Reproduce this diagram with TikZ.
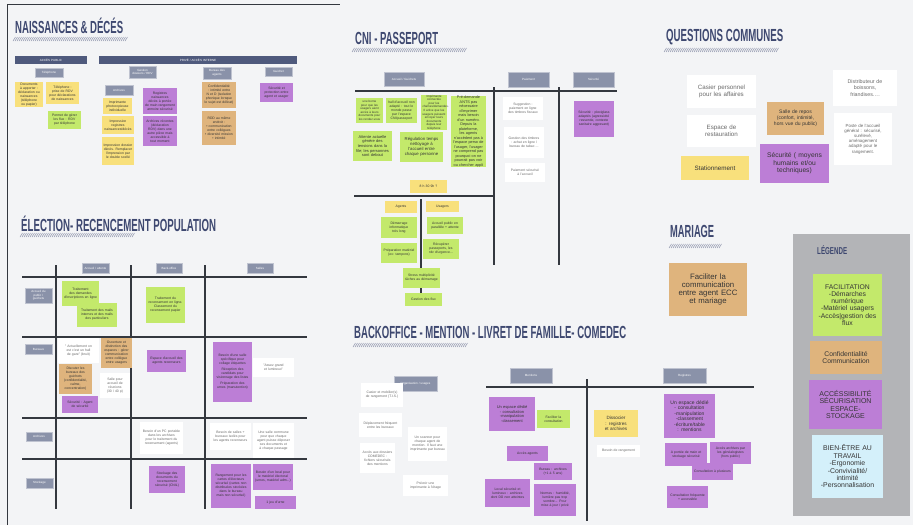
\documentclass[tikz,border=0pt]{standalone}
\usepackage{fontspec}
\usepackage{graphicx}
\setmainfont{Liberation Sans}
\newcommand\fs[2]{\fontsize{#1}{#2}\selectfont}
\definecolor{bgc}{HTML}{F3F4F6}
\definecolor{ttl}{HTML}{3E4870}
\definecolor{barc}{HTML}{4F5A7D}
\definecolor{lblc}{HTML}{8A92A9}
\definecolor{ylw}{HTML}{F8E07C}
\definecolor{grn}{HTML}{C3E96B}
\definecolor{pur}{HTML}{BC7ED6}
\definecolor{tanc}{HTML}{DFB47D}
\definecolor{lgnd}{HTML}{B3B4B7}
\definecolor{lblue}{HTML}{D4F0FA}
\definecolor{gridc}{HTML}{34383F}
\definecolor{hatchc}{HTML}{8C92AA}
\definecolor{txt}{HTML}{353535}
\definecolor{gtxt}{HTML}{6A6A6A}
\tikzset{
  base/.style={inner sep=0pt, outer sep=0pt, align=center, text=txt, font=\fs{3.4}{4}},
  ylwn/.style={base, fill=ylw},
  grnn/.style={base, fill=grn},
  purn/.style={base, fill=pur},
  tann/.style={base, fill=tanc},
  whtn/.style={base, fill=white, text=gtxt},
  bluen/.style={base, fill=lblue},
  lbl/.style={base, fill=lblc, draw=lblc!55!white, line width=0.6pt, text=white, font=\fs{3}{3.6}},
  bar/.style={base, fill=barc, text=white, font=\fs{3}{3.6}},
  gridline/.style={draw=gridc, line width=1.8pt},
  ttlnode/.style={anchor=base west, inner sep=0pt, text=ttl, font=\bfseries\fs{17.5}{17.5}},
}
% #1 style, #2 name, #3 x1, #4 y1, #5 x2, #6 y2, #7 text
\newcommand\nt[7]{\node[#1, minimum width={(#5-#3)*1pt}, minimum height={(#6-#4)*1pt}, text width={(#5-#3-3)*1pt}] (#2) at ({(#3+#5)/2},{(#4+#6)/2}) {#7};}
\newcommand\hatch[3]{\foreach \i in {0,2,...,#3}{\draw[hatchc, line width=0.5pt] ({#1+\i},{#2+4}) -- ({#1+\i+2.5},{#2});}}
\newcommand\ttlbox[2]{\resizebox{#1pt}{\height}{#2}}
\begin{document}
\hyphenpenalty=10000
\exhyphenpenalty=10000
\tolerance=9999
\begin{tikzpicture}[x=1pt,y=-1pt]
\fill[bgc] (0,0) rectangle (913,525);
\useasboundingbox (0,0) rectangle (913,525);
\draw[gridc, line width=1pt] (7,525) -- (7,4.5) -- (340,4.5);

% ================= NAISSANCES & DECES =================
\node[ttlnode] (t1) at (15,33.5) {\ttlbox{108}{NAISSANCES \& DÉCÉS}};
\hatch{13}{37}{112}
\nt{bar}{h1}{15}{56}{87}{64}{ACCÈS PUBLIC}
\nt{bar}{h2}{99}{56}{297}{64}{PRIVÉ / ACCÈS INTERNE}
\nt{lbl}{g1}{35}{68}{63}{77}{Téléphone}
\nt{lbl}{g2}{129}{66}{156}{78}{Gestion\\ dossiers / RDV}
\nt{lbl}{g3}{105}{85}{133}{95}{Archives}
\nt{lbl}{g4}{203}{67}{231}{79}{Bureau des\\ agents}
\nt{lbl}{g5}{265}{67}{292}{76}{Guichet}
\nt{ylwn}{n1}{15}{82}{43}{107}{Documents à apporter : déclaration ou naissances (téléphone ou papier)}
\nt{ylwn}{n2}{46}{82}{79}{104}{Téléphone : prise de RDV pour déclarations de naissances}
\nt{grnn}{n3}{48}{111}{81}{129}{Permet de gérer les flux : RDV par téléphone}
\nt{ylwn}{n4}{103}{98}{132}{114}{Imprimante photocopieuse individuelle}
\nt{ylwn}{n5}{102}{116}{134}{134}{Impression registres naissances/décès}
\nt{ylwn}{n6}{102}{137}{134}{165}{Impression dossier décès. Remplacer l'impression par le double scellé}
\nt{purn}{n7}{143}{88}{177}{114}{Registres naissances décès à portée de main rangement armoire sécurisé}
\nt{purn}{n8}{143}{116}{177}{146}{Archives récentes (déclaration RDV) dans une autre pièce mais accessible à tout moment}
\nt{tann}{n9}{202}{82}{236}{108}{Confidentialité : intimité entre N et D (isolation phonique lorsque le sujet est délicat)}
\nt{tann}{n10}{202}{111}{236}{145}{RDD au même endroit :\\ • communication entre collègues\\ • diversité mission\\ • intimité}
\nt{purn}{n11}{260}{83}{293}{102}{Sécurité et protection entre agent et usager}

% ================= ELECTION =================
\node[ttlnode] (t2) at (21,231) {\ttlbox{195}{ÉLECTION- RECENCEMENT POPULATION}};
\hatch{20}{233}{112}
\coordinate (ev1a) at (56,265); \coordinate (ev1b) at (56,509);
\coordinate (ev2a) at (131,265); \coordinate (ev2b) at (131,509);
\coordinate (ev3a) at (205,265); \coordinate (ev3b) at (205,509);
\coordinate (eh1a) at (22,277); \coordinate (eh1b) at (307,277);
\coordinate (eh2a) at (22,337); \coordinate (eh2b) at (307,337);
\coordinate (eh3a) at (22,418); \coordinate (eh3b) at (307,418);
\coordinate (eh4a) at (22,459); \coordinate (eh4b) at (307,459);
\draw[gridline] (ev1a) -- (ev1b) (ev2a) -- (ev2b) (ev3a) -- (ev3b);
\draw[gridline] (eh1a) -- (eh1b) (eh2a) -- (eh2b) (eh3a) -- (eh3b) (eh4a) -- (eh4b);
\nt{lbl}{ec1}{82}{263}{109}{273}{Accueil / attente}
\nt{lbl}{ec2}{156}{263}{182}{273}{Back-office}
\nt{lbl}{ec3}{247}{263}{273}{273}{Salles}
\nt{lbl}{er1}{25}{288}{52}{303}{Accueil du\\ public /\\ guichets}
\nt{lbl}{er2}{25}{344}{52}{354}{Bureaux}
\nt{lbl}{er3}{26}{432}{52}{441}{Archives}
\nt{lbl}{er4}{26}{478}{53}{488}{Stockage}
\nt{grnn}{e1}{62}{281}{99}{306}{Traitement des demandes d'inscriptions en ligne}
\nt{grnn}{e2}{77}{303}{117}{327}{Traitement des mails internes et des mails des particuliers}
\nt{grnn}{e3}{146}{287}{185}{323}{Traitement du recensement en ligne.\\ Classement du recensement papier}
\nt{whtn}{e4}{58}{338}{99}{363}{" Actuellement on est c'est un hall de gare" (bruit)}
\nt{tann}{e5}{101}{338}{132}{368}{Ouverture et distinction des espaces : gérer communication entre collègue entre usagers}
\nt{tann}{e6}{59}{364}{92}{394}{Discuter les bureaux des guichets (confidentialité, calme, concentration)}
\nt{whtn}{e7}{100}{373}{130}{398}{Salle pour accueil de réunions (30 / 40 p)}
\nt{purn}{e8}{62}{396}{98}{413}{Sécurité : Agent de sécurité}
\nt{purn}{e9}{147}{350}{186}{372}{Espace d'accueil des agents recenseurs}
\nt{purn}{e10}{213}{342}{252}{402}{Besoin d'une salle spécifique pour collage étiquettes\\[2pt] Réception des candidats pour visionnage des listes\\[2pt] Préparation des urnes (manutention)}
\nt{whtn}{e11}{253}{358}{294}{377}{"Assez grand et lumineux"}
\nt{whtn}{e12}{140}{422}{183}{454}{Besoin d'un PC portable dans les archives pour le traitement du recensement (agents)}
\nt{whtn}{e13}{210}{423}{251}{450}{Besoin de salles + bureaux isolés pour les agents recenseurs}
\nt{whtn}{e14}{253}{423}{294}{458}{Une salle commune pour que chaque agent puisse déposer ses documents et à chaque passage}
\nt{purn}{e15}{149}{466}{185}{493}{Stockage des documents du recensement sécurisé (CNIL)}
\nt{purn}{e16}{211}{464}{251}{508}{Rangement pour les cartes d'électeurs sécurisé (cartes non distribuées stockées dans le bureau mais non sécurisé)}
\nt{purn}{e17}{253}{464}{293}{490}{Besoin d'un local pour le matériel électoral (urnes, matériel adm...)}
\nt{purn}{e18}{255}{496}{296}{509}{1 jeu d'urne}

% ================= CNI - PASSEPORT =================
\node[ttlnode] (t3) at (355,44) {\ttlbox{83}{CNI - PASSEPORT}};
\hatch{352}{48}{112}
\coordinate (ch1a) at (355,91); \coordinate (ch1b) at (617,91);
\coordinate (cv1a) at (494,87); \coordinate (cv1b) at (494,265);
\coordinate (cv2a) at (559,87); \coordinate (cv2b) at (559,265);
\coordinate (ch2a) at (354,196); \coordinate (ch2b) at (494,196);
\coordinate (cv3a) at (421,199); \coordinate (cv3b) at (421,293);
\draw[gridline] (ch1a) -- (ch1b) (cv1a) -- (cv1b) (cv2a) -- (cv2b) (ch2a) -- (ch2b) (cv3a) -- (cv3b);
\nt{lbl}{cc1}{384}{72}{424}{86}{Accueil / Guichets}
\nt{lbl}{cc2}{508}{72}{549}{87}{Paiement}
\nt{lbl}{cc3}{573}{72}{614}{87}{Sécurité}
\nt{grnn, font=\fs{3}{3.6}}{c1}{356}{98}{383}{123}{une borne pour que les usagers aient accès à leurs documents pour les rendez-vous}
\nt{grnn}{c2}{386}{98}{417}{123}{hall d'accueil non adapté : tout le monde passe par l'espace CNI/passeport}
\nt{grnn, font=\fs{3}{3.6}}{c3}{421}{98}{447}{127}{Imprimante connectée pour les chaînes/demandes. Il arrive que les usagers puissent envoyer leurs documents depuis leur téléphone}
\nt{grnn, font=\fs{3.8}{4.5}}{c4}{451}{98}{486}{165}{Pré-demande ANTS pas nécessaire d'imprimer mais besoin d'un numéro.\\ Depuis la plateforme, les agents n'accèdent pas à l'espace perso de l'usager, l'usager ne comprend pas pourquoi on ne pourrait pas voir ou chercher appli}
\nt{grnn, font=\fs{4}{4.7}}{c5}{353}{131}{392}{161}{Attente actuelle génère des tensions dans la file; les personnes sont debout}
\nt{grnn, font=\fs{4.3}{5}}{c6}{400}{132}{443}{162}{Régulation temps nettoyage à l'accueil entre chaque personne}
\nt{ylwn}{c7}{410}{180}{447}{193}{8 h 30 9h ?}
\nt{ylwn}{c8}{385}{201}{417}{213}{Agents}
\nt{ylwn}{c9}{426}{201}{459}{212}{Usagers}
\nt{grnn}{c10}{381}{217}{417}{238}{Démarrage informatique très long}
\nt{grnn}{c11}{427}{217}{463}{234}{Accueil public en parallèle + attente}
\nt{grnn}{c12}{381}{243}{417}{263}{Préparation matériel (ex: tampons)}
\nt{grnn}{c13}{423}{239}{459}{259}{Récupérer passeports, les rdv d'urgence...}
\nt{grnn}{c14}{403}{268}{440}{288}{Stress multiplicité tâches au démarrage}
\nt{grnn}{c15}{405}{293}{442}{306}{Gestion des flux}
\nt{whtn}{c16}{503}{97}{543}{120}{Suggestion : paiement en ligne des timbres fiscaux}
\nt{whtn}{c17}{504}{127}{544}{158}{Gestion des timbres : achat en ligne / bureau de tabac ...}
\nt{whtn}{c18}{505}{163}{545}{182}{Paiement sécurisé à l'accueil}
\nt{purn}{c19}{574}{101}{614}{137}{Sécurité : plexiglass adaptés (agressivité ressentie, contexte sanitaire aggravant)}

% ================= QUESTIONS COMMUNES =================
\node[ttlnode] (t4) at (666,41) {\ttlbox{117}{QUESTIONS COMMUNES}};
\hatch{664}{48}{112}
\nt{whtn, font=\fs{6.2}{7.4}}{q1}{687}{75}{756}{108}{Casier personnel\\pour les affaires}
\nt{whtn, font=\fs{6.2}{7.4}}{q2}{687}{115}{756}{147}{Espace de\\restauration}
\nt{ylwn, font=\fs{6.3}{7.4}}{q3}{681}{156}{749}{180}{Stationnement}
\nt{tann, font=\fs{5}{6}}{q4}{767}{102}{824}{135}{Salle de repos\\(confort, intimité,\\hors vue du public)}
\nt{purn, font=\fs{6.7}{7.6}}{q5}{760}{144}{829}{183}{Sécurité ( moyens\\humains et/ou\\techniques)}
\nt{whtn, font=\fs{5.3}{6.4}}{q6}{833}{70}{897}{106}{Distributeur de\\boissons,\\friandises….}
\nt{whtn, font=\fs{4.4}{5.2}}{q7}{834}{113}{892}{165}{Poste de l'accueil\\général : sécurisé,\\surélevé,\\aménagement\\adapté pour le\\rangement.}

% ================= MARIAGE =================
\node[ttlnode] (t5) at (670,237) {\ttlbox{44}{MARIAGE}};
\hatch{669}{244}{50}
\nt{tann, font=\fs{7.8}{8}}{m1}{669}{263}{747}{316}{Faciliter la\\communication\\entre agent ECC\\et mariage}

% ================= LEGENDE =================
\fill[lgnd] (793,234) rectangle (910,516);
\node[ttlnode, font=\bfseries\fs{10}{10}] (t6) at (817,254.5) {\ttlbox{30}{LÉGENDE}};
\nt{grnn, font=\fs{6.8}{7.2}}{l1}{813}{274}{882}{336}{FACILITATION\\-Démarches\\numérique\\-Matériel usagers\\-Accès|gestion des\\flux}
\nt{tann, font=\fs{6.8}{7.4}}{l2}{810}{341}{882}{374}{Confidentialité\\Communication}
\nt{purn, font=\fs{7}{7.5}}{l3}{809}{380}{882}{429}{ACCÉSSIBILITÉ\\SÉCURISATION\\ESPACE-\\STOCKAGE}
\nt{bluen, font=\fs{6.9}{7.4}}{l4}{812}{435}{883}{498}{BIEN-ÊTRE AU\\TRAVAIL\\-Ergonomie\\-Convivialité/\\intimité\\-Personnalisation}

% ================= BACKOFFICE =================
\node[ttlnode] (t7) at (354,338) {\ttlbox{272}{BACKOFFICE - MENTION - LIVRET DE FAMILLE- COMEDEC}};
\hatch{353}{343}{112}
\coordinate (bh1a) at (486,387); \coordinate (bh1b) at (754,387);
\coordinate (bv1a) at (587,379); \coordinate (bv1b) at (587,521);
\draw[gridline] (bh1a) -- (bh1b) (bv1a) -- (bv1b);
\nt{lbl}{b0}{394}{376}{437}{391}{Organisation / usages}
\nt{lbl}{bm}{510}{368}{552}{383}{Mentions}
\nt{lbl}{br}{663}{368}{706}{383}{Registres}
\nt{whtn}{b1}{361}{383}{403}{407}{Casier et mobilier(s) de rangement (T.I.S.)}
\nt{whtn}{b2}{359}{413}{402}{437}{Déplacement fréquent entre les bureaux}
\nt{whtn}{b3}{360}{443}{395}{473}{Accès aux dossiers COMEDEC : fichiers sécurisés des mentions}
\nt{whtn}{b4}{408}{427}{447}{461}{Un scanner pour chaque agent de mention. Il faut une imprimante par bureau}
\nt{whtn}{b5}{403}{475}{448}{496}{Prévoir une imprimante à l'étage}
\nt{purn, font=\fs{4}{4.7}}{b6}{489}{397}{535}{431}{Un espace dédié\\ - consultation\\ -manipulation\\ -classement}
\nt{grnn}{b7}{537}{410}{570}{428}{Faciliter la consultation}
\nt{purn}{b8}{507}{446}{548}{461}{Accès agents}
\nt{purn}{b9}{534}{463}{572}{480}{Bureau : archives (+1 à 5 ans)}
\nt{purn}{b10}{485}{479}{530}{507}{Local sécurisé et lumineux : archives dont DÜ non atteintes}
\nt{purn}{b11}{534}{484}{576}{516}{Normes : humidité, lumière pas trop sombre... Pour mise à jour / privé}
\nt{ylwn, font=\fs{4.6}{5.4}}{b12}{594}{410}{638}{437}{Dissocier : registres et archives}
\nt{whtn}{b13}{597}{445}{640}{457}{Besoin de rangement}
\nt{purn, font=\fs{5}{5.5}}{r1}{664}{394}{715}{438}{Un espace dédié\\ - consultation\\ -manipulation\\ -classement\\ -écriture/table : mentions}
\nt{purn}{r2}{665}{443}{707}{466}{A portée de main et stockage sécurisé}
\nt{purn}{r3}{710}{442}{751}{464}{Accès archives par les généalogistes (hors public)}
\nt{purn}{r4}{692}{463}{733}{480}{Consultation à plusieurs}
\nt{purn}{r5}{667}{486}{708}{508}{Consultation fréquente + accessible}
\end{tikzpicture}
\end{document}
